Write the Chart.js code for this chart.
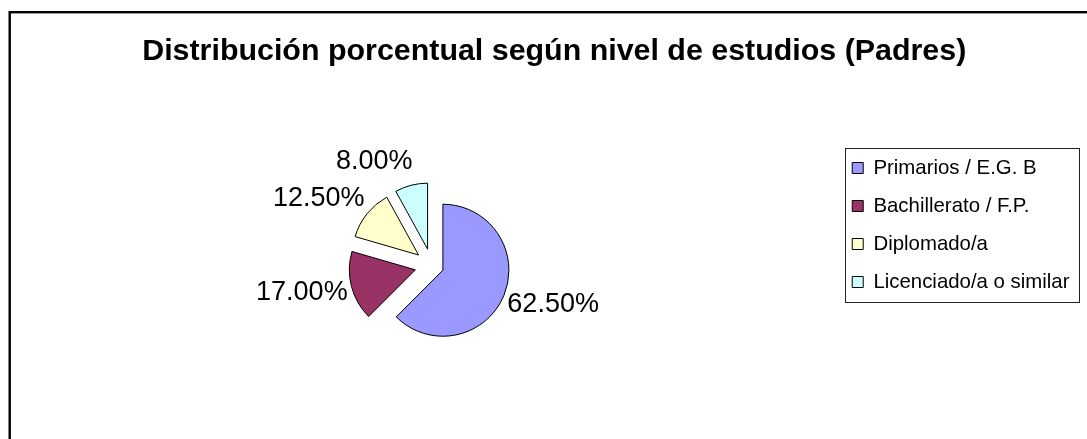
<!DOCTYPE html>
<html>
<head>
<meta charset="utf-8">
<title>Distribución porcentual según nivel de estudios (Padres)</title>
<script src="https://cdn.jsdelivr.net/npm/chart.js@4/dist/chart.umd.min.js"></script>
<style>
  html, body { margin: 0; padding: 0; background: #fff; overflow: hidden; }
  #wrap { width: 1087px; height: 439px; }
</style>
</head>
<body>
<div id="wrap"><canvas id="nivelPadresChart" width="1087" height="439"></canvas></div>
<script>
// ========== DATA ==========
var chartTitle = 'Distribución porcentual según nivel de estudios (Padres)';
var categories = ['Primarios / E.G. B', 'Bachillerato / F.P.', 'Diplomado/a', 'Licenciado/a o similar'];
var percentages = [62.5, 17.0, 12.5, 8.0];

// ========== LOOK ==========
var sliceColors = ['#9999FF', '#993366', '#FFFFCC', '#CCFFFF'];
var explodePx = [12, 17, 17, 17];
var FONT = '"Liberation Sans", Arial, Helvetica, sans-serif';

// old-excel style frame, cut off at the right and bottom
var framePlugin = {
    id: 'frame',
    beforeDraw: function(chart) {
        var ctx = chart.ctx;
        ctx.save();
        ctx.fillStyle = '#fff';
        ctx.fillRect(0, 0, chart.width, chart.height);
        ctx.strokeStyle = '#000';
        ctx.lineWidth = 2.4;
        ctx.strokeRect(9.7, 12.2, chart.width + 50, chart.height + 50);
        ctx.restore();
    }
};

// push every slice out along its mid angle (keeps the radius untouched)
var explodePlugin = {
    id: 'explode',
    afterDatasetUpdate: function(chart, args) {
        var meta = chart.getDatasetMeta(args.index);
        var ds = chart.data.datasets[args.index];
        meta.data.forEach(function(arc, i) {
            var d = (ds.explode && ds.explode[i]) || 0;
            var mid = (arc.startAngle + arc.endAngle) / 2;
            arc.x += Math.cos(mid) * d;
            arc.y += Math.sin(mid) * d;
        });
    }
};

// percentage labels just outside each slice
var outsideLabels = {
    id: 'outsideLabels',
    afterDatasetsDraw: function(chart) {
        var ctx = chart.ctx;
        var meta = chart.getDatasetMeta(0);
        var values = chart.data.datasets[0].data;
        ctx.save();
        ctx.font = '27px ' + FONT;
        ctx.fillStyle = '#000';
        ctx.textAlign = 'center';
        ctx.textBaseline = 'middle';
        meta.data.forEach(function(arc, i) {
            var txt = values[i].toFixed(2) + '%';
            var w = ctx.measureText(txt).width;
            var mid = (arc.startAngle + arc.endAngle) / 2;
            var dx = Math.cos(mid), dy = Math.sin(mid);
            var r = arc.outerRadius + 7;
            var ax = arc.x + dx * r, ay = arc.y + dy * r;
            var x = ax + (dx >= 0 ? 1 : -1) * (w / 2 - 3);
            var y = ay + dy * 17;
            ctx.fillText(txt, x, y);
        });
        ctx.restore();
    }
};

// thin box round the legend
var legendBox = {
    id: 'legendBox',
    afterDraw: function(chart) {
        var hb = chart.legend && chart.legend.legendHitBoxes;
        if (!hb || !hb.length) return;
        var l = Infinity, t = Infinity, r = -Infinity, b = -Infinity;
        hb.forEach(function(h) {
            l = Math.min(l, h.left); t = Math.min(t, h.top);
            r = Math.max(r, h.left + h.width); b = Math.max(b, h.top + h.height);
        });
        var ctx = chart.ctx;
        ctx.save();
        ctx.strokeStyle = '#222';
        ctx.lineWidth = 1;
        ctx.strokeRect(Math.round(l - 7) + 0.5, Math.round(t - 10) + 0.5, Math.round(r - l + 17), Math.round(b - t + 20));
        ctx.restore();
    }
};

var canvas = document.getElementById('nivelPadresChart');
var chart = new Chart(canvas.getContext('2d'), {
    type: 'pie',
    data: {
        labels: categories,
        datasets: [{
            data: percentages,
            backgroundColor: sliceColors,
            borderColor: '#000',
            borderWidth: 1,
            radius: 66,
            explode: explodePx
        }]
    },
    options: {
        responsive: false,
        animation: false,
        layout: { padding: { left: 29, right: 7.5, top: 11, bottom: 0 } },
        plugins: {
            title: {
                display: true,
                text: chartTitle,
                color: '#000',
                font: { family: FONT, size: 30.4, weight: 'bold', lineHeight: 1.2 },
                padding: { top: 22.4, bottom: 22.4 }
            },
            legend: {
                position: 'right',
                align: 'center',
                labels: {
                    color: '#000',
                    font: { family: FONT, size: 20.4 },
                    boxWidth: 11,
                    boxHeight: 11,
                    padding: 17.6
                }
            },
            tooltip: { enabled: false }
        }
    },
    plugins: [framePlugin, explodePlugin, outsideLabels, legendBox]
});
</script>
</body>
</html>
